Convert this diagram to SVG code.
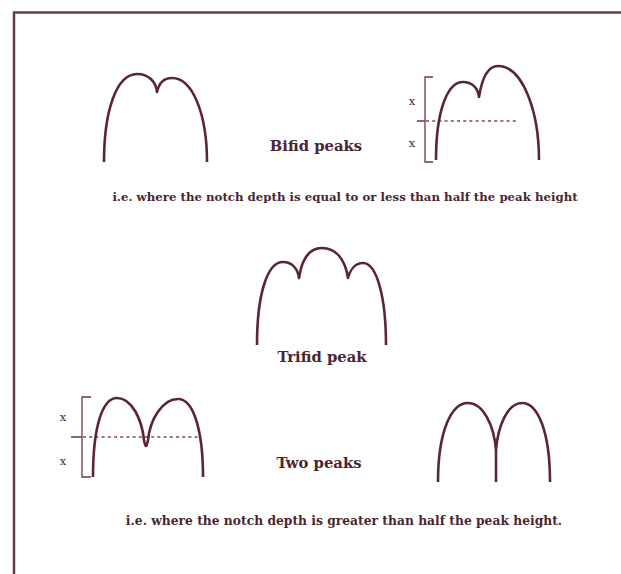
<svg xmlns="http://www.w3.org/2000/svg" width="621" height="574" viewBox="0 0 621 574">
<style>
.frame{fill:none;stroke:#6a3c40;stroke-width:2.5}
.curve{fill:none;stroke:#5a2630;stroke-width:2.6;stroke-linecap:butt;stroke-linejoin:round}
.brk{fill:none;stroke:#6a3a48;stroke-width:1.3}
.dot{fill:none;stroke:#8a4060;stroke-width:1.6;stroke-dasharray:3 3.2}
.lbl{font-family:"DejaVu Serif","Liberation Serif",serif;fill:#4a2630}
.title{font-size:14.8px;font-weight:bold}
.note{font-weight:bold}
.x{font-size:11.5px}
</style>
<rect width="621" height="574" fill="#ffffff"/>
<path class="frame" d="M14,574 V12.5 H621"/>
<g id="bifid-1">
<path class="curve" d="M104,162 C104,112 116,74 137,74 C149,74 156,82 157,92 C159,83 164,78 172,78 C193,78 207,115 207,162"/>
</g>
<g id="bifid-2">
<path class="brk" d="M433,77 H425 V162 H433 M417,121 H425"/>
<path class="dot" d="M426,121 H518"/>
<text class="lbl x" x="412" y="105" text-anchor="middle">x</text>
<text class="lbl x" x="412" y="147" text-anchor="middle">x</text>
<path class="curve" d="M436,160 C436,112 447,82 463,82 C472,82 478,88 479,97 C482,78 488,66 498,66 C523,66 539,112 539,160"/>
</g>
<text class="lbl title" x="316" y="151" text-anchor="middle">Bifid peaks</text>
<text class="lbl note" x="345" y="201" text-anchor="middle" font-size="11.75">i.e. where the notch depth is equal to or less than half the peak height</text>
<g id="trifid">
<path class="curve" d="M257,345 C257,295 267,262 283,262 C293,262 298,270 299,278 C302,258 310,248 322,248 C335,248 345,258 348,278 C350,270 355,263 363,263 C377,263 386,298 386,345"/>
<text class="lbl title" x="322" y="362" text-anchor="middle">Trifid peak</text>
</g>
<g id="two-peaks-1">
<path class="brk" d="M91,397 H82 V477 H91 M71,437 H82"/>
<path class="dot" d="M83,437 H200"/>
<text class="lbl x" x="63" y="421" text-anchor="middle">x</text>
<text class="lbl x" x="63" y="465" text-anchor="middle">x</text>
<path class="curve" d="M93,477 C93,428 102,398 117,398 C132,398 142,420 144,440 Q146,452 148,440 C150,420 162,399 178,399 C194,399 203,432 203,477"/>
</g>
<text class="lbl title" x="319" y="468" text-anchor="middle">Two peaks</text>
<g id="two-peaks-2">
<path class="curve" d="M438,482 C438,432 451,403 468,403 C483,403 494,425 496,450 L496,482 M496,450 C498,425 508,403 522,403 C538,403 550,432 550,482"/>
</g>
<text class="lbl note" x="344" y="525" text-anchor="middle" font-size="12.3">i.e. where the notch depth is greater than half the peak height.</text>
</svg>
